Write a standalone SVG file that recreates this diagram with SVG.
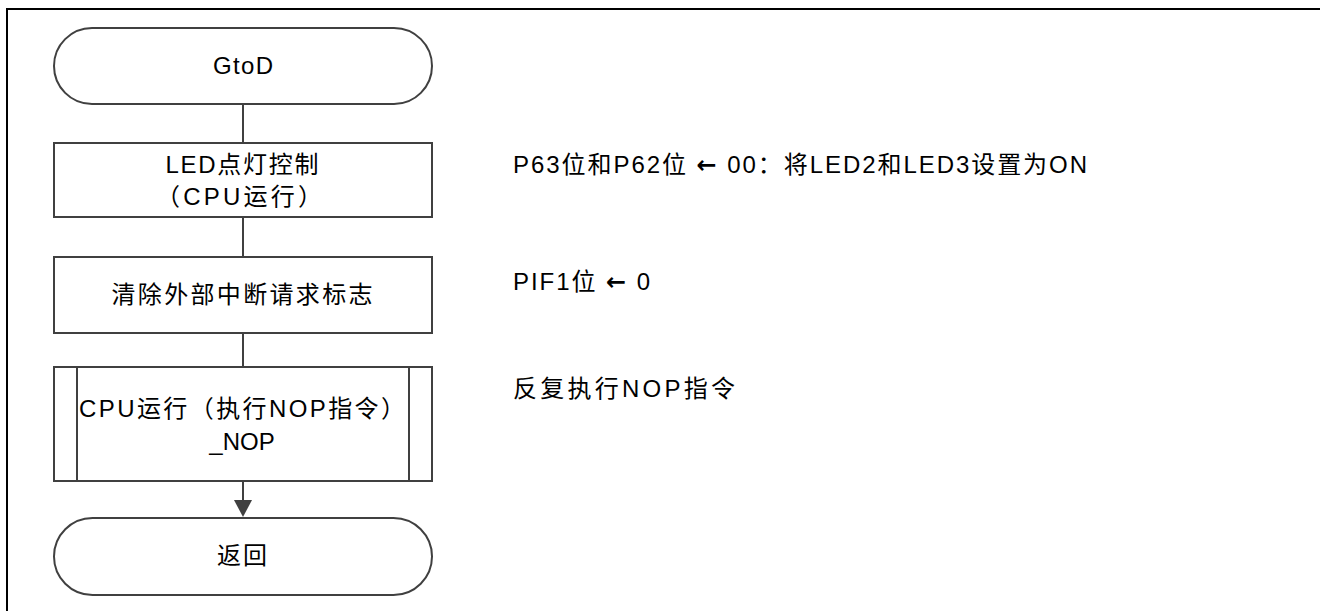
<svg xmlns="http://www.w3.org/2000/svg" width="1320" height="611" viewBox="0 0 1320 611">
<defs>
<style>
.shape{fill:#ffffff;stroke:#404040;stroke-width:2}
.line{fill:none;stroke:#404040;stroke-width:2}
.t{font-family:"Liberation Sans","Noto Sans CJK SC",sans-serif;font-size:24px;fill:#000000}
.c{text-anchor:middle}
.ar{font-family:"DejaVu Sans",sans-serif;font-weight:bold;font-size:24px}
</style>
</defs>
<rect x="0" y="0" width="1320" height="611" fill="#ffffff"/>
<rect x="7" y="9" width="1400" height="700" fill="none" stroke="#000000" stroke-width="2"/>
<g id="connectors">
<line class="line" x1="243" y1="104" x2="243" y2="143"/>
<line class="line" x1="243" y1="217" x2="243" y2="257"/>
<line class="line" x1="243" y1="333" x2="243" y2="367"/>
<path d="M243,481 L243,500" class="line"/>
<path d="M234,500 L252,500 L243,517 Z" fill="#404040"/>
</g>
<g id="start">
<rect class="shape" x="54" y="28" width="378" height="76" rx="38" ry="38"/>
<text class="t c" x="243" y="74" textLength="60" lengthAdjust="spacing">GtoD</text>
</g>
<g id="led">
<rect class="shape" x="54" y="143" width="378" height="74"/>
<text class="t c" x="242" y="173" textLength="153" lengthAdjust="spacing">LED点灯控制</text>
<text class="t c" x="239" y="205" textLength="166" lengthAdjust="spacing">（CPU运行）</text>
</g>
<g id="clear">
<rect class="shape" x="54" y="257" width="378" height="76"/>
<text class="t c" x="242" y="303" textLength="261" lengthAdjust="spacing">清除外部中断请求标志</text>
</g>
<g id="nop">
<rect class="shape" x="54" y="367" width="378" height="114"/>
<line class="line" x1="77" y1="367" x2="77" y2="481"/>
<line class="line" x1="409" y1="367" x2="409" y2="481"/>
<text class="t" x="79" y="417" textLength="326" lengthAdjust="spacing">CPU运行（执行NOP指令）</text>
<text class="t c" x="242" y="450">_NOP</text>
</g>
<g id="end">
<rect class="shape" x="54" y="518" width="378" height="77" rx="38.5" ry="38.5"/>
<text class="t c" x="242" y="564" textLength="50" lengthAdjust="spacing">返回</text>
</g>
<g id="notes">
<text class="t" x="513" y="173" textLength="574" lengthAdjust="spacing">P63位和P62位 <tspan class="ar">←</tspan> 00：将LED2和LED3设置为ON</text>
<text class="t" x="513" y="290" textLength="137" lengthAdjust="spacing">PIF1位 <tspan class="ar">←</tspan> 0</text>
<text class="t" x="513" y="397" textLength="222" lengthAdjust="spacing">反复执行NOP指令</text>
</g>
</svg>
